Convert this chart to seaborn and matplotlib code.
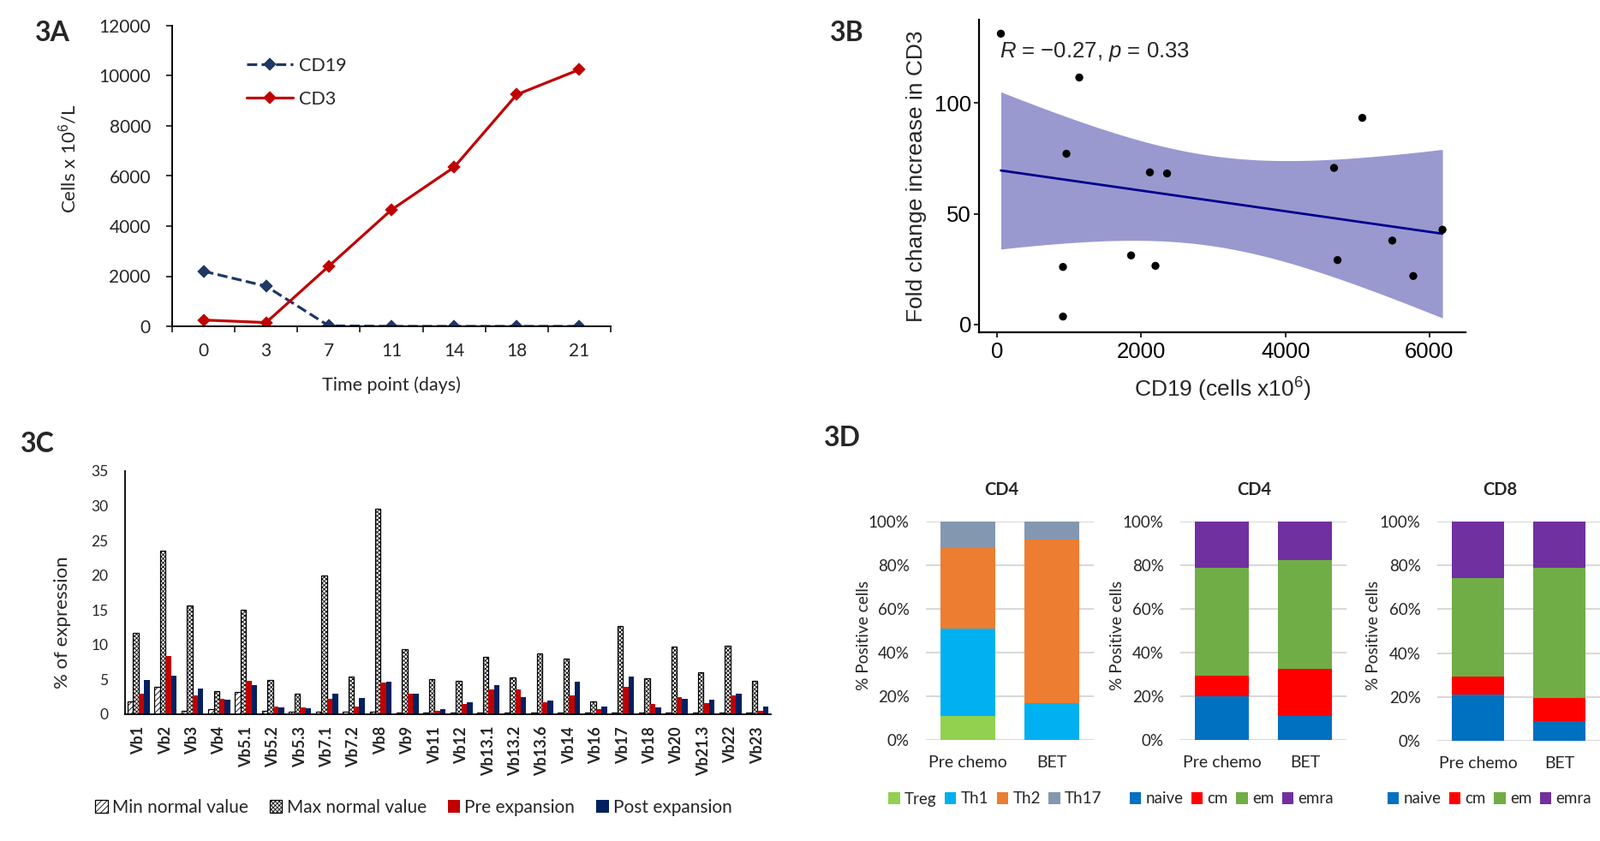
import numpy as np
import pandas as pd
import matplotlib
matplotlib.use("Agg")
import matplotlib.pyplot as plt
import seaborn as sns

# === Data: 3A expansion kinetics ===
days = ["0", "3", "7", "11", "14", "18", "21"]
cd19_counts = [2200, 1600, 20, 0, 0, 0, 0]
cd3_counts = [250, 150, 2400, 4650, 6350, 9250, 10250]

# === Data: 3B CD19 vs fold change ===
cd19_cells = [53, 1141, 963, 2121, 2359, 1860, 915, 2198, 915, 4676, 5068, 4724, 5484, 5775, 6180]
fold_change = [131.3, 111.5, 77.1, 68.7, 68.2, 31.2, 26.0, 26.5, 3.6, 70.7, 93.3, 29.1, 37.9, 21.9, 42.8]

# === Data: 3C TCR Vbeta repertoire ===
vb_labels = ["Vb1", "Vb2", "Vb3", "Vb4", "Vb5.1", "Vb5.2", "Vb5.3", "Vb7.1", "Vb7.2", "Vb8",
             "Vb9", "Vb11", "Vb12", "Vb13.1", "Vb13.2", "Vb13.6", "Vb14", "Vb16", "Vb17",
             "Vb18", "Vb20", "Vb21.3", "Vb22", "Vb23"]
min_normal = [1.85, 3.9, 0.5, 0.7, 3.2, 0.5, 0.35, 0.35, 0.35, 0.35,
              0.3, 0.3, 0.3, 0.3, 0.3, 0.3, 0.3, 0.3, 0.3, 0.3, 0.3, 0.3, 0.3, 0.3]
max_normal = [11.7, 23.6, 15.7, 3.3, 15.0, 4.9, 2.9, 20.0, 5.4, 29.6,
              9.35, 5.05, 4.8, 8.25, 5.25, 8.8, 8.0, 1.85, 12.7, 5.15, 9.7, 6.0, 9.85, 4.8]
pre_expansion = [2.9, 8.4, 2.75, 2.25, 4.8, 1.15, 1.0, 2.25, 1.15, 4.6,
                 2.9, 0.55, 1.5, 3.6, 3.6, 1.75, 2.75, 0.75, 4.0, 1.5, 2.5, 1.65, 2.75, 0.55]
post_expansion = [4.9, 5.5, 3.7, 2.1, 4.2, 1.0, 0.85, 2.95, 2.35, 4.7,
                  2.95, 0.75, 1.7, 4.2, 2.5, 1.95, 4.7, 1.1, 5.4, 1.0, 2.25, 2.1, 3.0, 1.15]
vb_series = ["Min normal value", "Max normal value", "Pre expansion", "Post expansion"]

# === Data: 3D subsets (segment % per timepoint) ===
timepoints = ["Pre chemo", "BET"]
th_subsets = ["Treg", "Th1", "Th2", "Th17"]
cd4_th_pre = [10.8, 40.2, 36.9, 12.1]
cd4_th_bet = [0.0, 16.7, 75.1, 8.2]
mem_subsets = ["naive", "cm", "em", "emra"]
cd4_mem_pre = [20.0, 9.5, 49.4, 21.1]
cd4_mem_bet = [11.1, 21.5, 49.8, 17.6]
cd8_mem_pre = [21.2, 8.2, 45.0, 25.6]
cd8_mem_bet = [8.8, 10.6, 59.6, 21.0]

W, H = 1868, 982


def box(left, top, right, bottom):
    """Pixel box -> figure fraction rect."""
    return [left / W, 1 - bottom / H, (right - left) / W, (bottom - top) / H]


sns.set_style("ticks")
plt.rcParams["font.family"] = ["Lato", "DejaVu Sans"]
plt.rcParams["mathtext.fontset"] = "custom"
plt.rcParams["mathtext.rm"] = "Liberation Sans"
plt.rcParams["mathtext.it"] = "Liberation Sans:italic"
plt.rcParams["hatch.linewidth"] = 0.6

fig = plt.figure(figsize=(W / 100, H / 100), dpi=100)

# === 3A ===
ax = fig.add_axes(box(201, 30, 713, 381))
df_a = pd.DataFrame({
    "day": days * 2,
    "cells": cd19_counts + cd3_counts,
    "series": ["CD19"] * len(days) + ["CD3"] * len(days),
})
sns.pointplot(data=df_a, x="day", y="cells", hue="series", palette=["#1f3864", "#c00000"],
              markers=["D", "D"], linestyles=["--", "-"], errorbar=None, legend=False,
              markersize=6, linewidth=2.3, ax=ax)
ax.set_xlim(-0.5, 6.5)
ax.set_ylim(0, 12000)
ax.set_yticks(range(0, 12001, 2000))
ax.set_xticks(np.arange(-0.5, 7, 1), minor=True)
ax.tick_params(axis="x", which="major", length=0, pad=14, labelsize=15)
ax.tick_params(axis="x", which="minor", length=5, width=1.3)
ax.tick_params(axis="y", length=5, width=1.3, pad=13, labelsize=15)
sns.despine(ax=ax)
for s in ["left", "bottom"]:
    ax.spines[s].set_linewidth(1.4)
    ax.spines[s].set_color("black")
ax.set_xlabel("Time point (days)", fontsize=15.5)
ax.set_ylabel("Cells x 10$^{6}$/L", fontsize=16)
ax.xaxis.set_label_coords(0.5, -0.165)
ax.yaxis.set_label_coords(-0.213, 0.558)
ax.legend(handles=ax.lines[:2], labels=["CD19", "CD3"], loc="upper left",
          bbox_to_anchor=(0.17, 0.895), frameon=False, fontsize=15.5, handlelength=2.5,
          handletextpad=0.35, labelspacing=0.87, borderaxespad=0, borderpad=0)

# === 3B ===
ax = fig.add_axes(box(1143, 23, 1711, 388))
x = np.array(cd19_cells, dtype=float)
y = np.array(fold_change, dtype=float)
slope, icpt = np.polyfit(x, y, 1)
xs = np.linspace(x.min(), x.max(), 200)
pred = icpt + slope * xs
resid_sd = np.sqrt(np.sum((y - (icpt + slope * x)) ** 2) / (len(x) - 2))
se = resid_sd * np.sqrt(1 / len(x) + (xs - x.mean()) ** 2 / np.sum((x - x.mean()) ** 2))
t975 = 2.1604  # t quantile, df = 13
ax.fill_between(xs, pred - t975 * se, pred + t975 * se, color="darkblue", alpha=0.4,
                lw=0, zorder=1)
sns.regplot(x=x, y=y, ci=None, scatter=False, color="darkblue", line_kws=dict(lw=2),
            ax=ax)
sns.scatterplot(x=x, y=y, color="black", s=45, edgecolor="none", zorder=3, ax=ax)
ax.set_xlim(-250, 6500)
ax.set_ylim(-3.5, 137.6)
ax.set_xticks([0, 2000, 4000, 6000])
ax.set_yticks([0, 50, 100])
ax.tick_params(length=4.5, width=1.2, labelsize=18.5, labelfontfamily="Liberation Sans",
               colors="black")
ax.tick_params(axis="y", pad=2)
sns.despine(ax=ax)
for s in ["left", "bottom"]:
    ax.spines[s].set_linewidth(1.6)
    ax.spines[s].set_color("black")
ax.set_xlabel("CD19 (cells x10$^{6}$)", fontsize=19, family="Liberation Sans")
ax.set_ylabel("Fold change increase in CD3", fontsize=19, family="Liberation Sans")
ax.xaxis.set_label_coords(0.5, -0.14)
ax.yaxis.set_label_coords(-0.108, 0.5)
ax.text(40, 123, "$\\it{R}$ = \u22120.27, $\\it{p}$ = 0.33", fontsize=18.5,
        family="Liberation Sans", va="center", ha="left")

# === 3C ===
ax = fig.add_axes(box(146, 550, 900, 834))
df_c = pd.DataFrame({
    "vb": vb_labels * 4,
    "pct": min_normal + max_normal + pre_expansion + post_expansion,
    "kind": np.repeat(vb_series, len(vb_labels)),
})
sns.barplot(data=df_c, x="vb", y="pct", hue="kind", hue_order=vb_series,
            palette=["white", "white", "#c00000", "#002060"], saturation=1,
            width=0.82, gap=0, legend=False, errorbar=None, ax=ax)
styles = [("white", "black", "/////"), ("white", "black", "xxxxxxx"),
          ("#c00000", "#c00000", None), ("#002060", "#002060", None)]
for cont, (fc, ec, hatch) in zip(ax.containers, styles):
    for p in cont.patches:
        p.set_facecolor(fc)
        p.set_edgecolor(ec)
        p.set_linewidth(0.9 if hatch else 0)
        if hatch:
            p.set_hatch(hatch)
ax.set_ylim(0, 35)
ax.set_yticks(range(0, 36, 5))
ax.tick_params(axis="y", length=0, pad=14, labelsize=12.5)
ax.tick_params(axis="x", length=0, pad=10, labelsize=13, rotation=90)
for lbl in ax.get_xticklabels():
    lbl.set_fontweight("bold")
sns.despine(ax=ax)
for s in ["left", "bottom"]:
    ax.spines[s].set_linewidth(1.3)
    ax.spines[s].set_color("black")
ax.set_xlabel("")
ax.set_ylabel("% of expression", fontsize=16)
ax.yaxis.set_label_coords(-0.084, 0.377)
fig.legend(handles=ax.containers, labels=vb_series, loc="center",
           bbox_to_anchor=(483 / W, 1 - 943 / H), ncol=4, frameon=False, fontsize=15,
           handlelength=0.7, handleheight=0.7, handletextpad=0.25, columnspacing=1.2)

# === 3D ===
th_colors = ["#92d050", "#00b0f0", "#ed7d31", "#8497b0"]
mem_colors = ["#0070c0", "#ff0000", "#70ad47", "#7030a0"]
panels = [
    (box(1081, 609, 1277, 864), "CD4", 0.449, cd4_th_pre, cd4_th_bet, th_subsets, th_colors,
     -0.327, 1162),
    (box(1378, 609, 1572, 864), "CD4", 0.443, cd4_mem_pre, cd4_mem_bet, mem_subsets,
     mem_colors, -0.335, 1438),
    (box(1678, 609, 1868, 865), "CD8", 0.384, cd8_mem_pre, cd8_mem_bet, mem_subsets,
     mem_colors, -0.347, 1739),
]
for rect, title, tx, pre, bet, names, colors, ylab_x, leg_x in panels:
    ax = fig.add_axes(rect)
    cum_pre = np.cumsum(pre)
    cum_bet = np.cumsum(bet)
    # draw cumulative heights from the top segment down so each covers the next
    for i in reversed(range(len(names))):
        sns.barplot(x=timepoints, y=[cum_pre[i], cum_bet[i]], color=colors[i], saturation=1,
                    width=0.65, linewidth=0, ax=ax)
    ax.set_xlim(-0.5, 1.5)
    ax.set_ylim(0, 100)
    ax.set_yticks(range(0, 101, 20))
    ax.set_yticklabels([f"{v}%" for v in range(0, 101, 20)])
    ax.yaxis.grid(True, color="#d9d9d9", lw=1.5)
    ax.set_axisbelow(True)
    for s in ax.spines.values():
        s.set_visible(False)
    ax.tick_params(axis="y", length=0, pad=14, labelsize=13.5)
    ax.tick_params(axis="x", length=0, pad=13, labelsize=14)
    ax.set_title(title, fontsize=14.5, fontweight="bold", x=tx, pad=22)
    ax.set_ylabel("% Positive cells", fontsize=13.8)
    ax.yaxis.set_label_coords(ylab_x, 0.48)
    fig.legend(handles=ax.containers[::-1], labels=names, loc="center",
               bbox_to_anchor=(leg_x / W, 1 - 933 / H), ncol=4, frameon=False, fontsize=13.5,
               handlelength=0.7, handleheight=0.7, handletextpad=0.3, columnspacing=0.5)

# === Panel letters ===
for txt, px, py in [("3A", 41, 48), ("3B", 969, 48), ("3C", 24, 528), ("3D", 962, 521)]:
    fig.text(px / W, 1 - py / H, txt, fontsize=23, fontweight="bold", va="baseline")

fig.savefig("out.png", dpi=100)
plt.close(fig)
